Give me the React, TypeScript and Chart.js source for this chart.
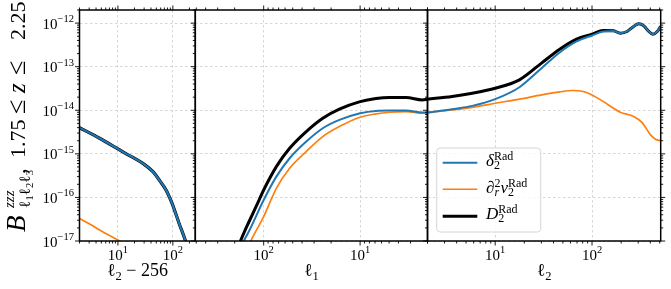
import React, { useEffect, useRef } from 'react';
import { Chart, registerables } from 'chart.js';
Chart.register(...registerables);

const W = 671;
const H = 289;
const SERIF = '"Liberation Serif", "DejaVu Serif", serif';

const BLUE = '#1f77b4';
const ORANGE = '#ff7f0e';
const BLACK = '#000000';

// ---------- data ----------
const Y_MIN = 1e-17;
const Y_MAX = 2.0e-12;
const Y_TICK_EXPONENTS = [-12, -13, -14, -15, -16, -17];
const X_TICK_EXPONENTS = [1, 2];

// Panel 1: x = l2 - 256
const P1_RANGE = [2, 256];
const P1_DELTA_X = [2, 4.64, 10, 14.2, 18.7, 29.3, 43.3, 58, 75.8, 87, 96, 129, 170, 185];
const P1_DELTA_Y = [4.0e-15, 2.28e-15, 1.3e-15, 1.0e-15, 8.3e-16, 5.9e-16, 3.9e-16, 2.4e-16, 1.45e-16, 1.0e-16, 7.5e-17, 2.6e-17, 1.0e-17, 7e-18];
const P1_VEL_X = [2, 3, 5, 10, 20];
const P1_VEL_Y = [3.3e-17, 2.5e-17, 1.7e-17, 1.05e-17, 6.2e-18];
const P1_D_X = [2, 4.64, 10, 14.2, 18.7, 29.3, 43.3, 58, 75.8, 87, 96, 129, 170, 185];
const P1_D_Y = [4.0e-15, 2.28e-15, 1.3e-15, 1.0e-15, 8.3e-16, 5.9e-16, 3.9e-16, 2.4e-16, 1.45e-16, 1.0e-16, 7.5e-17, 2.6e-17, 1.0e-17, 7e-18];

// Panel 2: x = l1 (reversed axis)
const P2_RANGE = [2, 512];
const P2_DELTA_X = [2, 2.26, 3.34, 4.98, 6.84, 10, 16.4, 24.4, 36.2, 53.8, 73.9, 100, 140, 161, 175];
const P2_DELTA_Y = [8.85e-15, 8.85e-15, 9.84e-15, 9.84e-15, 9.68e-15, 8.55e-15, 6.01e-15, 3.87e-15, 1.91e-15, 7.93e-16, 3.0e-16, 8.75e-17, 1.79e-17, 1.0e-17, 7e-18];
const P2_VEL_X = [2, 2.26, 3.34, 4.98, 6.84, 10, 16.4, 24.4, 36.2, 53.8, 73.9, 100, 136, 150];
const P2_VEL_Y = [8.85e-15, 8.55e-15, 9.33e-15, 9.02e-15, 8.26e-15, 6.92e-15, 4.23e-15, 2.49e-15, 1.13e-15, 4.67e-16, 1.62e-16, 3.62e-17, 1.0e-17, 6e-18];
const P2_D_X = [2, 2.26, 3.34, 4.98, 6.84, 10, 16.4, 24.4, 36.2, 53.8, 73.9, 100, 119, 150, 174, 190];
const P2_D_Y = [1.8e-14, 1.73e-14, 1.96e-14, 1.96e-14, 1.86e-14, 1.58e-14, 1.06e-14, 6.56e-15, 3.24e-15, 1.34e-15, 5.09e-16, 1.48e-16, 6.37e-17, 2.13e-17, 1.0e-17, 6e-18];

// Panel 3: x = l2
const P3_RANGE = [2, 512];
const P3_DELTA_X = [2, 3.59, 5.8, 10, 17.8, 30.1, 46.4, 69.2, 100, 131, 167, 196, 230, 269, 303, 343, 386, 425, 472, 512];
const P3_DELTA_Y = [8.85e-15, 1.06e-14, 1.26e-14, 1.8e-14, 3.38e-14, 9.25e-14, 2.12e-13, 3.79e-13, 5.2e-13, 6.43e-13, 6.6e-13, 5.89e-13, 6.43e-13, 8.38e-13, 9.64e-13, 8.67e-13, 6.43e-13, 5.58e-13, 6.43e-13, 8.38e-13];
const P3_VEL_X = [2, 3.59, 5.8, 10, 17.8, 30.1, 46.4, 62.9, 81.3, 100, 131, 167, 196, 269, 329, 402, 453, 512];
const P3_VEL_Y = [8.85e-15, 1.02e-14, 1.17e-14, 1.45e-14, 1.8e-14, 2.25e-14, 2.64e-14, 2.84e-14, 2.69e-14, 2.25e-14, 1.58e-14, 1.11e-14, 9.0e-15, 7.18e-15, 5.22e-15, 2.72e-15, 2.16e-15, 2.01e-15];
const P3_D_X = [2, 3.59, 5.8, 10, 17.8, 30.1, 46.4, 69.2, 100, 131, 167, 196, 230, 269, 303, 343, 386, 425, 472, 512];
const P3_D_Y = [1.8e-14, 2.07e-14, 2.47e-14, 3.21e-14, 4.99e-14, 1.21e-13, 2.52e-13, 4.29e-13, 5.58e-13, 6.78e-13, 6.65e-13, 5.89e-13, 6.43e-13, 8.38e-13, 9.64e-13, 8.67e-13, 6.43e-13, 5.58e-13, 6.43e-13, 8.38e-13];

// ---------- rich text ----------
type Seg = { t?: string; s?: number; dy?: number; it?: boolean; gap?: number; at?: number; stack?: Seg[][] };

function rich(ctx: CanvasRenderingContext2D, x: number, y: number, segs: Seg[], draw = true): number {
  let cx = x;
  for (const g of segs) {
    if (g.at !== undefined) cx = x + g.at;
    if (g.stack) {
      let m = 0;
      for (const part of g.stack) m = Math.max(m, rich(ctx, cx, y, part, draw));
      cx += m;
      continue;
    }
    if (g.gap) {
      cx += g.gap;
      continue;
    }
    ctx.font = `${g.it ? 'italic ' : ''}${g.s}px ${SERIF}`;
    const w = ctx.measureText(g.t || '').width;
    if (draw) ctx.fillText(g.t || '', cx, y + (g.dy || 0));
    cx += w;
  }
  return cx - x;
}

const supsub = (sup: Seg[], sub: Seg[], at?: number): Seg => ({ stack: [sup, sub], at });
const RAD2: Seg = supsub([{ t: 'Rad', s: 12, dy: -6 }], [{ t: '2', s: 12, dy: 3 }]);

const LEGEND_ITEMS: { color: string; width: number; segs: Seg[] }[] = [
  { color: BLUE, width: 2, segs: [{ t: 'δ', s: 17, it: true }, RAD2] },
  {
    color: ORANGE,
    width: 1.6,
    segs: [
      { t: '∂', s: 17 },
      supsub([{ t: '2', s: 12, dy: -6 }], [{ t: 'r', s: 12, it: true, dy: 3 }]),
      { t: 'v', s: 17, it: true },
      RAD2,
    ],
  },
  { color: BLACK, width: 3, segs: [{ t: 'D', s: 17, it: true }, RAD2] },
];

// positions along the rotated label (from its start at the bottom)
const YLABEL: Seg[] = [
  { t: 'B', s: 27, it: true, at: 0 },
  supsub(
    [{ t: 'zzz', s: 15, it: true, dy: -11 }],
    [
      { t: 'ℓ', s: 15.5, dy: 5 },
      { t: '1', s: 10.5, dy: 7.5 },
      { t: 'ℓ', s: 15.5, dy: 5 },
      { t: '2', s: 10.5, dy: 7.5 },
      { t: 'ℓ', s: 15.5, dy: 5 },
      { t: '3', s: 10.5, dy: 7.5 },
    ],
    24
  ),
  { t: ',', s: 23, at: 58 },
  { t: '1.75', s: 22, at: 74 },
  { t: '≤', s: 26, at: 118 },
  { t: 'z', s: 25, it: true, at: 139 },
  { t: '≤', s: 26, at: 157 },
  { t: '2.25', s: 22, at: 192 },
];

function logTicks(min: number, max: number) {
  const out: { v: number; major: boolean }[] = [];
  for (let n = Math.floor(Math.log10(min)) - 1; n <= Math.ceil(Math.log10(max)); n++) {
    for (let k = 1; k <= 9; k++) {
      const v = k * Math.pow(10, n);
      if (v >= min * (1 - 1e-9) && v <= max * (1 + 1e-9)) out.push({ v, major: k === 1 });
    }
  }
  return out;
}
const isPow10 = (v: number) => {
  if (!v || v <= 0) return false;
  const l = Math.log10(v);
  return Math.abs(l - Math.round(l)) < 1e-6;
};

type PanelCfg = {
  left: number;
  right: number;
  range: number[];
  reverse: boolean;
  title: Seg[];
  yLabels: boolean;
  rightTicks: boolean;
  legend: boolean;
  series: { x: number[]; y: number[]; color: string; width: number }[];
};

const TOP = 10;
const BOTTOM = 241;

const PANELS: PanelCfg[] = [
  {
    left: 79.5,
    right: 195.3,
    range: P1_RANGE,
    reverse: false,
    title: [{ t: 'ℓ', s: 18 }, { t: '2', s: 12.5, dy: 3.5 }, { t: ' − 256', s: 18 }],
    yLabels: true,
    rightTicks: false,
    legend: false,
    series: [
      { x: P1_DELTA_X, y: P1_DELTA_Y, color: BLUE, width: 2.2 },
      { x: P1_VEL_X, y: P1_VEL_Y, color: ORANGE, width: 1.7 },
      { x: P1_D_X, y: P1_D_Y, color: BLACK, width: 3.2 },
    ],
  },
  {
    left: 195.3,
    right: 427.5,
    range: P2_RANGE,
    reverse: true,
    title: [{ t: 'ℓ', s: 18 }, { t: '1', s: 12.5, dy: 3.5 }],
    yLabels: false,
    rightTicks: false,
    legend: false,
    series: [
      { x: P2_DELTA_X, y: P2_DELTA_Y, color: BLUE, width: 2 },
      { x: P2_VEL_X, y: P2_VEL_Y, color: ORANGE, width: 1.7 },
      { x: P2_D_X, y: P2_D_Y, color: BLACK, width: 3 },
    ],
  },
  {
    left: 427.5,
    right: 660.7,
    range: P3_RANGE,
    reverse: false,
    title: [{ t: 'ℓ', s: 18 }, { t: '2', s: 12.5, dy: 3.5 }],
    yLabels: false,
    rightTicks: true,
    legend: true,
    series: [
      { x: P3_DELTA_X, y: P3_DELTA_Y, color: BLUE, width: 2 },
      { x: P3_VEL_X, y: P3_VEL_Y, color: ORANGE, width: 1.7 },
      { x: P3_D_X, y: P3_D_Y, color: BLACK, width: 3 },
    ],
  },
];

function roundRect(ctx: CanvasRenderingContext2D, x: number, y: number, w: number, h: number, r: number) {
  ctx.beginPath();
  ctx.moveTo(x + r, y);
  ctx.lineTo(x + w - r, y);
  ctx.arcTo(x + w, y, x + w, y + r, r);
  ctx.lineTo(x + w, y + h - r);
  ctx.arcTo(x + w, y + h, x + w - r, y + h, r);
  ctx.lineTo(x + r, y + h);
  ctx.arcTo(x, y + h, x, y + h - r, r);
  ctx.lineTo(x, y + r);
  ctx.arcTo(x, y, x + r, y, r);
  ctx.closePath();
}

function makeDeco(p: PanelCfg) {
  return {
    id: 'deco',
    afterDraw(chart: any) {
      const ctx: CanvasRenderingContext2D = chart.ctx;
      const a = chart.chartArea;
      const xs = chart.scales.x;
      const ys = chart.scales.y;
      ctx.save();
      ctx.strokeStyle = '#000';
      ctx.fillStyle = '#000';
      ctx.lineWidth = 0.9;
      const seg = (x1: number, y1: number, x2: number, y2: number) => {
        ctx.beginPath();
        ctx.moveTo(x1, y1);
        ctx.lineTo(x2, y2);
        ctx.stroke();
      };
      for (const t of logTicks(p.range[0], p.range[1])) {
        const px = xs.getPixelForValue(t.v);
        const L = t.major ? 4.5 : 2.5;
        seg(px, a.bottom, px, a.bottom + L);
        seg(px, a.top, px, a.top - L);
      }
      for (const t of logTicks(Y_MIN, Y_MAX)) {
        const py = ys.getPixelForValue(t.v);
        const L = t.major ? 4.5 : 2.5;
        seg(a.left, py, a.left - L, py);
        if (p.rightTicks) seg(a.right, py, a.right + L, py);
      }
      ctx.lineWidth = 1.5;
      ctx.strokeRect(a.left, a.top, a.right - a.left, a.bottom - a.top);

      ctx.textBaseline = 'alphabetic';
      ctx.textAlign = 'left';
      // x tick labels
      for (const e of X_TICK_EXPONENTS) {
        const v = Math.pow(10, e);
        if (v < p.range[0] || v > p.range[1]) continue;
        const px = xs.getPixelForValue(v);
        const segs: Seg[] = [{ t: '10', s: 15 }, { t: String(e), s: 10.5, dy: -7 }];
        const w = rich(ctx, 0, 0, segs, false);
        rich(ctx, px - w / 2, 259.5, segs);
      }
      // y tick labels
      if (p.yLabels) {
        for (const e of Y_TICK_EXPONENTS) {
          const py = ys.getPixelForValue(Math.pow(10, e));
          const segs: Seg[] = [{ t: '10', s: 15 }, { t: '−' + String(-e), s: 10.5, dy: -6.5 }];
          const w = rich(ctx, 0, 0, segs, false);
          rich(ctx, 74 - w, py + 5.5, segs);
        }
        // y axis label (rotated)
        ctx.save();
        ctx.translate(25, 232);
        ctx.rotate(-Math.PI / 2);
        rich(ctx, 0, 0, YLABEL);
        ctx.restore();
      }
      // axis title
      {
        const w = rich(ctx, 0, 0, p.title, false);
        rich(ctx, (a.left + a.right) / 2 - w / 2, 276, p.title);
      }
      // legend
      if (p.legend) {
        ctx.save();
        roundRect(ctx, 436.7, 148, 104, 84, 3.5);
        ctx.fillStyle = 'rgba(255,255,255,0.8)';
        ctx.fill();
        ctx.strokeStyle = '#d6d6d6';
        ctx.lineWidth = 1;
        ctx.stroke();
        const ly = [162.7, 189.3, 216.2];
        const by = [166, 192.5, 219];
        LEGEND_ITEMS.forEach((it, i) => {
          ctx.strokeStyle = it.color;
          ctx.lineWidth = it.width;
          seg(442.7, ly[i], 477.3, ly[i]);
          ctx.fillStyle = '#000';
          rich(ctx, 486, by[i], it.segs);
        });
        ctx.restore();
      }
      ctx.restore();
    },
  };
}

function Panel({ cfg }: { cfg: PanelCfg }) {
  const ref = useRef<HTMLCanvasElement | null>(null);
  useEffect(() => {
    if (!ref.current) return;
    const gridColor = (c: any) => (c.tick && isPow10(c.tick.value) ? 'rgba(160,160,160,0.55)' : 'rgba(0,0,0,0)');
    const chart = new Chart(ref.current, {
      type: 'line',
      data: {
        datasets: cfg.series.map((s) => ({
          data: s.x.map((x, i) => ({ x, y: s.y[i] })),
          borderColor: s.color,
          backgroundColor: s.color,
          borderWidth: s.width,
          pointRadius: 0,
          fill: false,
          cubicInterpolationMode: 'monotone' as const,
          clip: 0,
        })),
      },
      options: {
        animation: false,
        responsive: false,
        devicePixelRatio: 1,
        events: [],
        layout: { padding: { left: cfg.left, right: W - cfg.right, top: TOP, bottom: H - BOTTOM } },
        plugins: { legend: { display: false }, tooltip: { enabled: false } },
        scales: {
          x: {
            type: 'logarithmic',
            min: cfg.range[0],
            max: cfg.range[1],
            reverse: cfg.reverse,
            ticks: { display: false },
            grid: { color: gridColor, lineWidth: 0.8, drawTicks: false },
            border: { display: false, dash: [2.5, 2.5] },
            afterFit: (s: any) => {
              s.height = 0;
            },
          },
          y: {
            type: 'logarithmic',
            min: Y_MIN,
            max: Y_MAX,
            ticks: { display: false },
            grid: { color: gridColor, lineWidth: 0.8, drawTicks: false },
            border: { display: false, dash: [2.5, 2.5] },
            afterFit: (s: any) => {
              s.width = 0;
            },
          },
        },
      } as any,
      plugins: [makeDeco(cfg)],
    });
    return () => chart.destroy();
  }, [cfg]);
  return <canvas ref={ref} width={W} height={H} style={{ position: 'absolute', left: 0, top: 0, width: W, height: H }} />;
}

export default function App() {
  useEffect(() => {
    document.body.style.margin = '0';
  }, []);
  return (
    <div style={{ position: 'relative', width: W, height: H, background: '#fff', overflow: 'hidden' }}>
      {PANELS.map((p, i) => (
        <Panel key={i} cfg={p} />
      ))}
    </div>
  );
}
